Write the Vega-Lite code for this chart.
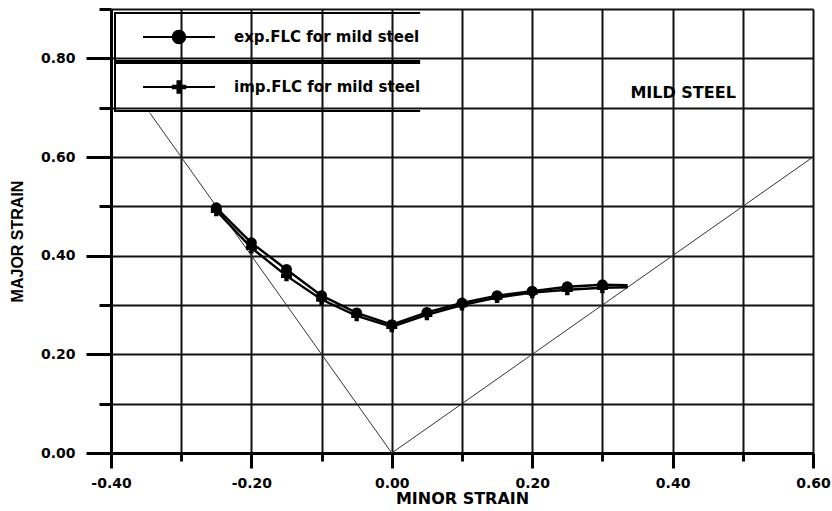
{
  "$schema": "https://vega.github.io/schema/vega-lite/v6.json",
  "width": 702,
  "height": 444,
  "autosize": {"type": "none"},
  "padding": {"left": 111, "top": 9, "right": 19, "bottom": 58},
  "background": "white",
  "datasets": {
    "flc": [
      {"series": "exp.FLC for mild steel", "minor": -0.25, "major": 0.497},
      {"series": "exp.FLC for mild steel", "minor": -0.2, "major": 0.426},
      {"series": "exp.FLC for mild steel", "minor": -0.15, "major": 0.372},
      {"series": "exp.FLC for mild steel", "minor": -0.1, "major": 0.319},
      {"series": "exp.FLC for mild steel", "minor": -0.05, "major": 0.284},
      {"series": "exp.FLC for mild steel", "minor": 0.0, "major": 0.26},
      {"series": "exp.FLC for mild steel", "minor": 0.05, "major": 0.285},
      {"series": "exp.FLC for mild steel", "minor": 0.1, "major": 0.304},
      {"series": "exp.FLC for mild steel", "minor": 0.15, "major": 0.319},
      {"series": "exp.FLC for mild steel", "minor": 0.2, "major": 0.328},
      {"series": "exp.FLC for mild steel", "minor": 0.25, "major": 0.337},
      {"series": "exp.FLC for mild steel", "minor": 0.3, "major": 0.341},
      {"series": "exp.FLC for mild steel", "minor": 0.336, "major": 0.34},
      {"series": "imp.FLC for mild steel", "minor": -0.25, "major": 0.491},
      {"series": "imp.FLC for mild steel", "minor": -0.2, "major": 0.416},
      {"series": "imp.FLC for mild steel", "minor": -0.15, "major": 0.359},
      {"series": "imp.FLC for mild steel", "minor": -0.1, "major": 0.311},
      {"series": "imp.FLC for mild steel", "minor": -0.05, "major": 0.278},
      {"series": "imp.FLC for mild steel", "minor": 0.0, "major": 0.256},
      {"series": "imp.FLC for mild steel", "minor": 0.05, "major": 0.28},
      {"series": "imp.FLC for mild steel", "minor": 0.1, "major": 0.3},
      {"series": "imp.FLC for mild steel", "minor": 0.15, "major": 0.315},
      {"series": "imp.FLC for mild steel", "minor": 0.2, "major": 0.325},
      {"series": "imp.FLC for mild steel", "minor": 0.25, "major": 0.331},
      {"series": "imp.FLC for mild steel", "minor": 0.3, "major": 0.335},
      {"series": "imp.FLC for mild steel", "minor": 0.336, "major": 0.336}
    ],
    "ref": [
      {"path": "uniaxial", "minor": -0.345, "major": 0.69},
      {"path": "uniaxial", "minor": 0.0, "major": 0.0},
      {"path": "equibiaxial", "minor": 0.0, "major": 0.0},
      {"path": "equibiaxial", "minor": 0.6, "major": 0.6}
    ]
  },
  "config": {
    "view": {"stroke": null},
    "axis": {
      "grid": true,
      "gridColor": "#111111",
      "gridWidth": 2,
      "domainColor": "black",
      "domainWidth": 3,
      "tickColor": "black",
      "tickWidth": 3,
      "labelFont": "DejaVu Sans",
      "labelFontSize": 14,
      "labelFontWeight": "bold",
      "labelColor": "black",
      "labelOverlap": false,
      "labelFlush": false,
      "labelBound": false,
      "titleColor": "black",
      "titleFontWeight": "bold"
    }
  },
  "layer": [
    {
      "data": {"name": "ref"},
      "mark": {"type": "line", "color": "#333333", "strokeWidth": 1},
      "encoding": {
        "x": {
          "field": "minor",
          "type": "quantitative",
          "scale": {"domain": [-0.4, 0.6], "nice": false, "zero": false},
          "axis": {
            "values": [-0.4, -0.3, -0.2, -0.1, 0, 0.1, 0.2, 0.3, 0.4, 0.5, 0.6],
            "labelExpr": "abs(round(datum.value*10)) % 2 == 0 ? (datum.value < -0.001 ? '-' : '') + format(abs(datum.value), '.2f') : ''",
            "tickSize": {"condition": {"test": "abs(round(datum.value*10)) % 2 == 0", "value": 15}, "value": 8},
            "labelPadding": 8,
            "title": "MINOR STRAIN",
            "titleFont": "DejaVu Sans",
            "titleFontSize": 16,
            "titleY": 45,
            "titleBaseline": "middle"
          }
        },
        "y": {
          "field": "major",
          "type": "quantitative",
          "scale": {"domain": [0, 0.9], "nice": false, "zero": false},
          "axis": {
            "values": [0, 0.1, 0.2, 0.3, 0.4, 0.5, 0.6, 0.7, 0.8, 0.9],
            "labelExpr": "abs(round(datum.value*10)) % 2 == 0 ? format(datum.value, '.2f') : ''",
            "tickSize": {"condition": {"test": "abs(round(datum.value*10)) % 2 == 0", "value": 25}, "value": 12},
            "labelPadding": 11,
            "title": "MAJOR STRAIN",
            "titleFont": "Liberation Sans",
            "titleFontSize": 16,
            "titleAngle": 270,
            "titleX": -94,
            "titleY": 232,
            "titleAlign": "center",
            "titleBaseline": "middle"
          }
        },
        "detail": {"field": "path", "type": "nominal"}
      }
    },
    {
      "data": {"name": "flc"},
      "mark": {"type": "line", "color": "black", "strokeWidth": 2.4},
      "encoding": {
        "x": {"field": "minor", "type": "quantitative"},
        "y": {"field": "major", "type": "quantitative"},
        "detail": {"field": "series", "type": "nominal"}
      }
    },
    {
      "data": {"name": "flc"},
      "transform": [{"filter": "datum.series == 'exp.FLC for mild steel' && datum.minor <= 0.3"}],
      "mark": {"type": "point", "shape": "circle", "filled": true, "color": "black", "size": 120, "opacity": 1},
      "encoding": {
        "x": {"field": "minor", "type": "quantitative"},
        "y": {"field": "major", "type": "quantitative"}
      }
    },
    {
      "data": {"name": "flc"},
      "transform": [{"filter": "datum.series == 'imp.FLC for mild steel' && datum.minor <= 0.3"}],
      "mark": {"type": "point", "shape": "cross", "filled": true, "color": "black", "size": 120, "opacity": 1},
      "encoding": {
        "x": {"field": "minor", "type": "quantitative"},
        "y": {"field": "major", "type": "quantitative"}
      }
    },
    {
      "data": {"name": "flc"},
      "mark": {"type": "point", "filled": true, "color": "black", "opacity": 0},
      "encoding": {
        "x": {"field": "minor", "type": "quantitative"},
        "y": {"field": "major", "type": "quantitative"},
        "shape": {
          "field": "series",
          "type": "nominal",
          "scale": {
            "domain": ["exp.FLC for mild steel", "imp.FLC for mild steel"],
            "range": [
              "M-1.806,-0.694H8.083V0.694H-1.806ZM-1.75,-0.639V0.639H8.028V-0.639ZM-1,-0.03H1V0.03H-1ZM-0.2,0A0.2,0.2 0 1,1 0.2,0A0.2,0.2 0 1,1 -0.2,0Z",
              "M-1.806,-0.694H8.083V0.694H-1.806ZM-1.75,-0.639V0.639H8.028V-0.639ZM-1,-0.03H1V0.03H-1ZM-0.07,-0.19H0.07V0.19H-0.07ZM-0.2,-0.06H0.2V0.06H-0.2Z"
            ]
          },
          "legend": {
            "title": null,
            "orient": "top-left",
            "offset": 3,
            "padding": 0,
            "symbolSize": 5184,
            "symbolOffset": 29,
            "labelOffset": 19,
            "clipHeight": 50,
            "rowPadding": 0,
            "labelFont": "DejaVu Sans",
            "labelFontSize": 15,
            "labelFontWeight": "bold",
            "labelColor": "black",
            "labelLimit": 0,
            "symbolStrokeWidth": 0,
            "symbolFillColor": "black",
            "symbolOpacity": 1,
            "encode": {
              "symbols": {"update": {"opacity": {"value": 1}, "fill": {"value": "black"}}}
            }
          }
        }
      }
    },
    {
      "data": {"values": [{}]},
      "mark": {"type": "text", "font": "DejaVu Sans", "fontWeight": "bold", "fontSize": 16, "align": "center", "baseline": "middle", "color": "black"},
      "encoding": {
        "x": {"datum": 0.415, "type": "quantitative"},
        "y": {"datum": 0.73, "type": "quantitative"},
        "text": {"value": "MILD STEEL"}
      }
    }
  ]
}
